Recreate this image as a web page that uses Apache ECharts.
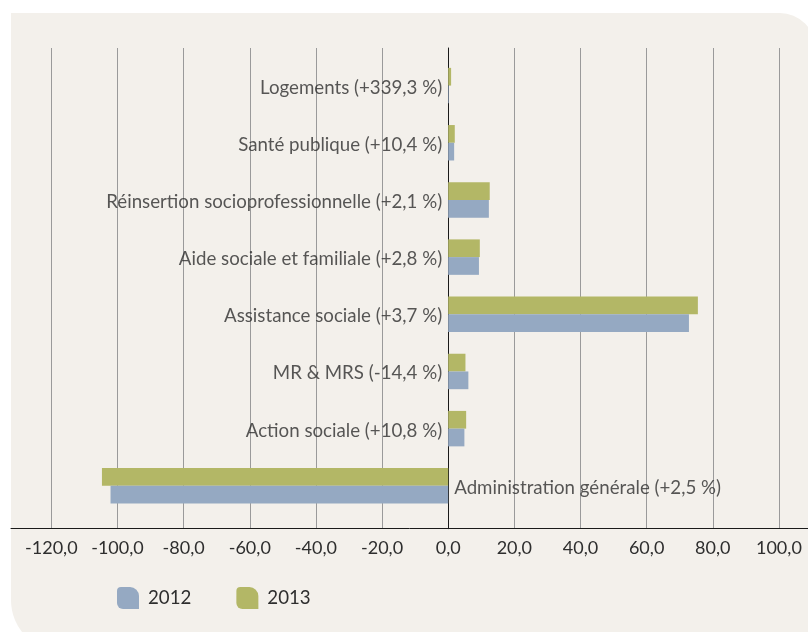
<!DOCTYPE html>
<html>
<head>
<meta charset="utf-8">
<script src="https://cdn.jsdelivr.net/npm/echarts@6/dist/echarts.min.js"></script>
<style>
  html, body { margin: 0; padding: 0; background: #ffffff; }
  #chart { width: 808px; height: 632px; }
</style>
</head>
<body>
<div id="chart"></div>
<script>
// Spending by sector, change 2012 -> 2013
const categories = [
  'Logements (+339,3 %)',
  'Santé publique (+10,4 %)',
  'Réinsertion socioprofessionnelle (+2,1 %)',
  'Aide sociale et familiale (+2,8 %)',
  'Assistance sociale (+3,7 %)',
  'MR & MRS (-14,4 %)',
  'Action sociale (+10,8 %)',
  'Administration générale (+2,5 %)'
];
const values2012 = [0.2, 1.8, 12.3, 9.3, 72.8, 6.1, 4.9, -102.1];
const values2013 = [0.88, 1.99, 12.56, 9.56, 75.5, 5.22, 5.43, -104.7];
const tickValues = [-120, -100, -80, -60, -40, -20, 0, 20, 40, 60, 80, 100];
const seriesNames = ['2012', '2013'];

const COLOR_2012 = '#95a9c2';
const COLOR_2013 = '#b3b766';
const TEXT = '#2e2e2e';
const FONT = 'Lato';
const X_MIN = -132.2, X_MAX = 108.8;

const fmt = v => v.toFixed(1).replace('.', ',');
const legendIcon = 'path://M4,0 H13 A9,9 0 0 1 22,9 V22 H6 A6,6 0 0 1 0,16 V4 A4,4 0 0 1 4,0 Z';

const chart = echarts.init(document.getElementById('chart'), null, { renderer: 'canvas' });

chart.setOption({
  animation: false,
  backgroundColor: '#ffffff',
  textStyle: { fontFamily: FONT, color: TEXT },
  graphic: [{
    type: 'rect',
    z: -10,
    silent: true,
    shape: { x: 11, y: 13, width: 804, height: 639, r: [0, 35, 0, 52] },
    style: { fill: '#f3f0eb' }
  }],
  legend: {
    data: seriesNames,
    left: 117,
    top: 587,
    padding: 0,
    itemWidth: 22,
    itemHeight: 22,
    itemGap: 45,
    icon: legendIcon,
    textStyle: { fontFamily: FONT, fontSize: 18.7, color: TEXT, padding: [0, 0, 0, 4] }
  },
  grid: [
    { left: 11, right: 0, top: 48, bottom: 103.3, containLabel: false },
    { left: 11, right: 0, top: 57, bottom: 117.6, containLabel: false }
  ],
  xAxis: [
    {
      type: 'value', gridIndex: 0, min: X_MIN, max: X_MAX,
      axisLine: { show: true, onZero: true, lineStyle: { color: '#1a1a1a', width: 1 } },
      axisTick: { show: false, customValues: tickValues },
      axisLabel: {
        customValues: tickValues,
        formatter: v => fmt(v),
        fontFamily: FONT, fontSize: 18, color: TEXT, margin: 10
      },
      splitLine: { show: true, lineStyle: { color: '#9a9a9a', width: 1 } }
    },
    {
      type: 'value', gridIndex: 1, min: X_MIN, max: X_MAX, show: false,
      splitLine: { show: false }
    }
  ],
  yAxis: [
    {
      type: 'value', gridIndex: 0, min: 0, max: 1,
      axisLine: { show: true, onZero: true, lineStyle: { color: '#1a1a1a', width: 1 } },
      axisTick: { show: false }, axisLabel: { show: false }, splitLine: { show: false }
    },
    {
      type: 'category', gridIndex: 1, data: categories, inverse: true, show: false
    }
  ],
  series: [
    {
      name: '2013', type: 'bar', xAxisIndex: 1, yAxisIndex: 1,
      data: values2013, barGap: '0%', barCategoryGap: '38%',
      itemStyle: { color: COLOR_2013 }
    },
    {
      name: '2012', type: 'bar', xAxisIndex: 1, yAxisIndex: 1,
      data: values2012, barGap: '0%', barCategoryGap: '38%',
      itemStyle: { color: COLOR_2012 }
    },
    {
      // category names written beside the zero line
      name: 'labels', type: 'scatter', xAxisIndex: 1, yAxisIndex: 1,
      symbolSize: 0, silent: true,
      data: categories.map((c, i) => ({
        value: [0, i],
        label: {
          show: true,
          position: values2012[i] < 0 ? 'right' : 'left',
          distance: 6,
          offset: [0, 2],
          formatter: c,
          fontFamily: FONT, fontSize: 18.7, color: TEXT
        }
      }))
    }
  ]
});
</script>
</body>
</html>
